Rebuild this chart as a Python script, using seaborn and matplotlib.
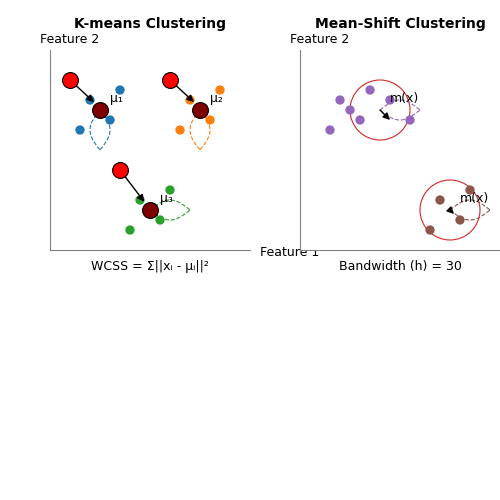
import numpy as np
import pandas as pd
import matplotlib
matplotlib.use("Agg")
import matplotlib.pyplot as plt
import seaborn as sns

sns.set_style("white")
plt.rcParams['font.family'] = ['DejaVu Sans']
plt.rcParams['text.color'] = 'black'
plt.rcParams['axes.titlecolor'] = 'black'

# K-means data
km_x = [35, 20, 30, 15, 85, 70, 80, 65, 60, 45, 55, 40]
km_y = [80, 75, 65, 60, 80, 75, 65, 60, 30, 25, 15, 10]
km_cluster = ['c1'] * 4 + ['c2'] * 4 + ['c3'] * 4
init_x = [10, 60, 35]
init_y = [85, 85, 40]
cent_x = [25, 75, 50]
cent_y = [70, 70, 20]
cent_labels = ['μ₁', 'μ₂', 'μ₃']
lens_dir = ['down', 'down', 'right']

# Mean-shift data
ms_x = [20, 35, 25, 30, 15, 45, 55, 85, 70, 80, 65]
ms_y = [75, 80, 70, 65, 60, 75, 65, 30, 25, 15, 10]
ms_cluster = ['m1'] * 7 + ['m2'] * 4
win_x = [40, 75]
win_y = [70, 20]
shift_x = [45, 77]
shift_y = [65, 18]
bandwidth = 30

km_colors = {'c1': '#1f77b4', 'c2': '#ff7f0e', 'c3': '#2ca02c'}
ms_colors = {'m1': '#9467bd', 'm2': '#8c564b'}

fig = plt.figure(figsize=(5, 5), dpi=100)
ax1 = fig.add_axes([0.1, 0.5, 0.4, 0.4])
ax2 = fig.add_axes([0.6, 0.5, 0.4, 0.4])


def lens(ax, x0, y0, direction, color, length=20, bulge=5):
    t = np.linspace(0, 1, 50)
    off = bulge * np.sin(np.pi * t)
    for s in (1, -1):
        if direction == 'down':
            ax.plot(x0 + s * off, y0 - length * t, ls='--', lw=0.8, color=color)
        else:
            ax.plot(x0 + length * t, y0 + s * off, ls='--', lw=0.8, color=color)


def style(ax, title):
    ax.set_xlim(0, 100)
    ax.set_ylim(0, 100)
    ax.set_xticks([])
    ax.set_yticks([])
    ax.set_xlabel('')
    ax.set_ylabel('')
    for s in ['top', 'right']:
        ax.spines[s].set_visible(False)
    for s in ['left', 'bottom']:
        ax.spines[s].set_color('gray')
    ax.set_title(title, fontweight='bold', fontsize=10, pad=16)
    ax.text(-5, 102, 'Feature 2', fontsize=9, va='bottom')


# K-means
kdf = pd.DataFrame({'x': km_x, 'y': km_y, 'c': km_cluster})
sns.scatterplot(data=kdf, x='x', y='y', hue='c', palette=km_colors, s=45,
                edgecolor='none', legend=False, ax=ax1, zorder=3)
for i in range(3):
    col = list(km_colors.values())[i]
    lens(ax1, cent_x[i], cent_y[i], lens_dir[i], col)
    ax1.annotate('', xy=(cent_x[i] - 2, cent_y[i] + 3), xytext=(init_x[i], init_y[i]),
                 arrowprops=dict(arrowstyle='-|>', color='black', lw=1), zorder=4)
    ax1.text(cent_x[i] + 5, cent_y[i] + 4, cent_labels[i], fontsize=9)
sns.scatterplot(x=init_x, y=init_y, color='red', s=130, edgecolor='black', linewidth=0.8, ax=ax1, zorder=5)
sns.scatterplot(x=cent_x, y=cent_y, color='#800000', s=130, edgecolor='black', linewidth=0.8, ax=ax1, zorder=5)
style(ax1, 'K-means Clustering')
ax1.text(50, -5, 'WCSS = Σ||xᵢ - μᵢ||²', ha='center', va='top', fontsize=9)
ax1.text(105, -1, 'Feature 1', fontsize=9, va='center')

# Mean-shift
mdf = pd.DataFrame({'x': ms_x, 'y': ms_y, 'c': ms_cluster})
sns.scatterplot(data=mdf, x='x', y='y', hue='c', palette=ms_colors, s=45,
                edgecolor='none', legend=False, ax=ax2, zorder=3)
for i in range(2):
    col = list(ms_colors.values())[i]
    ax2.add_patch(plt.Circle((win_x[i], win_y[i]), bandwidth / 2, fill=False, color='#d62728', lw=0.8))
    lens(ax2, win_x[i], win_y[i], 'right', col)
    ax2.annotate('', xy=(shift_x[i], shift_y[i]), xytext=(win_x[i], win_y[i]),
                 arrowprops=dict(arrowstyle='-|>', color='black', lw=1, shrinkA=0, shrinkB=0), zorder=4)
    ax2.text(win_x[i] + 5, win_y[i] + 4, 'm(x)', fontsize=9)
style(ax2, 'Mean-Shift Clustering')
ax2.text(50, -5, f'Bandwidth (h) = {bandwidth}', ha='center', va='top', fontsize=9)

fig.savefig('out.png', dpi=100)
